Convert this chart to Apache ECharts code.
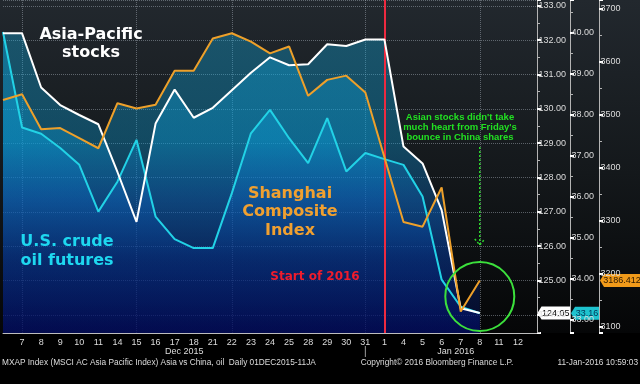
<!DOCTYPE html>
<html><head><meta charset="utf-8">
<script src="https://cdn.jsdelivr.net/npm/echarts@6/dist/echarts.min.js"></script>
<style>html,body{margin:0;padding:0;background:#000;}#c{width:640px;height:384px;}</style>
</head><body><div id="c"></div>
<script>
// ---- data ----
const dates = ['2015-12-04','2015-12-07','2015-12-08','2015-12-09','2015-12-10','2015-12-11',
  '2015-12-14','2015-12-15','2015-12-16','2015-12-17','2015-12-18',
  '2015-12-21','2015-12-22','2015-12-23','2015-12-24','2015-12-25',
  '2015-12-28','2015-12-29','2015-12-30','2015-12-31','2016-01-01',
  '2016-01-04','2016-01-05','2016-01-06','2016-01-07','2016-01-08',
  '2016-01-11','2016-01-12','2016-01-13'];
const asiaPacific = [132.20,132.20,130.62,130.11,129.82,129.55,128.16,126.71,129.57,130.56,129.74,
  130.03,130.54,131.05,131.50,131.27,131.30,131.88,131.83,132.02,132.02,
  128.90,128.41,127.05,124.19,124.05,null,null,null];
const oilFutures = [40.02,37.69,37.54,37.19,36.78,35.64,36.37,37.39,35.52,34.97,34.75,
  34.75,36.09,37.55,38.12,37.43,36.82,37.92,36.62,37.07,36.92,
  36.78,36.01,33.98,33.32,33.16,null,null,null];
const shanghai = [3527,3538,3472,3474,3455,3436,3521,3511,3518,3582,3582,
  3643,3653,3637,3615,3628,3535,3565,3573,3541,3419,
  3297,3288,3362,3128,3186.412,null,null,null];
const gridDates = ['2015-12-07','2015-12-15','2015-12-22','2015-12-31','2016-01-08'];
const startOfYear = '2016-01-01';
const hiddenDates = ['2015-12-04','2016-01-13'];
const asiaRange = [123.47, 133.17];
const oilRange = [32.68, 40.80];
const shRange = [3087.4, 3715.7];

const FONT = "'Liberation Sans',Arial,sans-serif";
const BOLD = "'DejaVu Sans',sans-serif";
const chart = echarts.init(document.getElementById('c'));

function areaGrad(){
  return {type:'linear', x:0, y:0, x2:0, y2:333, global:true, colorStops:[
    {offset:0, color:'rgba(18,175,225,0.5)'},
    {offset:0.42, color:'rgba(10,160,222,0.5)'},
    {offset:0.6, color:'rgba(12,104,195,0.5)'},
    {offset:0.78, color:'rgba(6,52,142,0.5)'},
    {offset:1, color:'rgba(2,12,100,0.55)'}]};
}
function yAx(range, split, offset, fmt, grid){
  return {type:'value', position:'right', offset:offset, min:range[0], max:range[1], splitNumber:split, scale:true,
    axisLine:{show:true, lineStyle:{color:'#b4b4b4'}},
    axisTick:{show:true, inside:false, length:4, lineStyle:{color:'#ffffff', width:2}},
    minorTick:{show:true, splitNumber:2, length:3, lineStyle:{color:'#b4b4b4'}},
    axisLabel:{show:true, margin:1.5, color:'#dcdcdc', fontSize:9, fontFamily:FONT, formatter:fmt, showMinLabel:false, showMaxLabel:false},
    splitLine:{show:grid, lineStyle:{type:'dotted', color:'rgba(175,185,195,0.45)'}},
    minorSplitLine:{show:false}};
}
const seriesDefs = [
  {name:'U.S. crude oil futures', data:oilFutures, y:1, color:'#22d2e6'},
  {name:'Asia-Pacific stocks', data:asiaPacific, y:0, color:'#ffffff'},
  {name:'Shanghai Composite Index', data:shanghai, y:2, color:'#eea02a'}
];
const series = [];
seriesDefs.forEach(s=>{
  series.push({type:'line', name:s.name+' area', data:s.data, yAxisIndex:s.y, z:1, showSymbol:false, silent:true,
    lineStyle:{width:0}, areaStyle:{origin:'start', color:areaGrad()}});
});
seriesDefs.forEach((s,i)=>{
  const o = {type:'line', name:s.name, data:s.data, yAxisIndex:s.y, z:3, showSymbol:false, silent:true,
    lineStyle:{width:2, color:s.color}};
  if(i===0){
    o.markLine = {silent:true, symbol:['none','none'], label:{show:false}, z:2,
      lineStyle:{color:'#ee2a40', width:2, type:'solid'}, data:[{xAxis:startOfYear}]};
  }
  series.push(o);
});

const option = {
  animation:false,
  backgroundColor:{type:'linear', x:0, y:0, x2:0, y2:1, colorStops:[
    {offset:0, color:'#22282e'}, {offset:0.45, color:'#14181b'},
    {offset:0.866, color:'#050607'}, {offset:0.868, color:'#000'}, {offset:1, color:'#000'}]},
  grid:{left:0, right:103, top:0, bottom:51},
  xAxis:{type:'category', data:dates, boundaryGap:false,
    axisLine:{lineStyle:{color:'#bdbdbd'}}, axisTick:{show:false},
    axisLabel:{interval:0, margin:5, color:'#dcdcdc', fontSize:9, fontFamily:FONT, hideOverlap:false,
      formatter:v=> hiddenDates.includes(v) ? '' : String(parseInt(v.slice(8),10))},
    splitLine:{show:true, interval:(i,v)=>gridDates.includes(v), lineStyle:{type:'dotted', color:'rgba(175,185,195,0.45)'}}},
  yAxis:[
    yAx(asiaRange, 10, 0, v=>v.toFixed(2), true),
    yAx(oilRange, 8, 33, v=>v.toFixed(2), false),
    yAx(shRange, 6, 62, v=>String(Math.round(v)), false)
  ],
  series:series
};
chart.setOption(option);

// ---- annotations positioned through the axes ----
const X = d => chart.convertToPixel({xAxisIndex:0}, d);
const Y = (k,v) => chart.convertToPixel({yAxisIndex:k}, v);
const last = arr => arr.filter(v=>v!=null).slice(-1)[0];
const xJan8 = X('2016-01-08');
const xDec4 = X(dates[0]), xDec31 = X('2015-12-31'), xJan1 = X('2016-01-01'), xEnd = X(dates[dates.length-1]);
function tag(x0, x1, y, fill, txtColor, text){
  return {type:'group', z:100, children:[
    {type:'polygon', shape:{points:[[x0,y],[x0+4,y-6.5],[x1,y-6.5],[x1,y+6.5],[x0+4,y+6.5]]}, style:{fill:fill}},
    {type:'text', x:(x0+4+x1)/2, y:y, style:{text:text, fill:txtColor, font:"9px "+FONT, textAlign:'center', textVerticalAlign:'middle'}}
  ]};
}
const aLast = last(asiaPacific), oLast = last(oilFutures), sLast = last(shanghai);
const graphics = [
  {type:'text', x:91, y:44, z:50, style:{text:'Asia-Pacific\nstocks', fill:'#ffffff', font:"bold 16px "+BOLD, textAlign:'center', textVerticalAlign:'middle', lineHeight:18}},
  {type:'text', x:67, y:251, z:50, style:{text:'U.S. crude\noil futures', fill:'#1ed8f0', font:"bold 16px "+BOLD, textAlign:'center', textVerticalAlign:'middle', lineHeight:19}},
  {type:'text', x:290, y:212, z:50, style:{text:'Shanghai\nComposite\nIndex', fill:'#f0a030', font:"bold 16px "+BOLD, textAlign:'center', textVerticalAlign:'middle', lineHeight:18.5}},
  {type:'text', x:315, y:277, z:50, style:{text:'Start of 2016', fill:'#f01c2c', font:"bold 12px "+BOLD, textAlign:'center', textVerticalAlign:'middle'}},
  {type:'text', x:460, y:127, z:50, style:{text:"Asian stocks didn't take\nmuch heart from Friday's\nbounce in China shares", fill:'#22e022', font:"bold 9.5px 'Liberation Sans',sans-serif", textAlign:'center', textVerticalAlign:'middle', lineHeight:10}},
  {type:'line', z:50, shape:{x1:xJan8, y1:147, x2:xJan8, y2:245}, style:{stroke:'#2ed82e', lineWidth:1.5, lineDash:[2,2]}},
  {type:'polyline', z:50, shape:{points:[[xJan8-5,239],[xJan8,245],[xJan8+5,239]]}, style:{stroke:'#2ed82e', lineWidth:1.5, lineDash:[2,2], fill:null}},
  {type:'circle', z:50, shape:{cx:xJan8, cy:296.5, r:34.5}, style:{stroke:'#3ce03c', lineWidth:2, fill:null}},
  {type:'text', x:(xDec4+xDec31)/2, y:352, style:{text:'Dec 2015', fill:'#dcdcdc', font:"9px "+FONT, textAlign:'center', textVerticalAlign:'middle'}},
  {type:'text', x:(xJan1+xEnd)/2 - 5, y:352, style:{text:'Jan 2016', fill:'#dcdcdc', font:"9px "+FONT, textAlign:'center', textVerticalAlign:'middle'}},
  {type:'line', shape:{x1:xDec31, y1:346, x2:xDec31, y2:357}, style:{stroke:'#9a9a9a', lineWidth:1}},
  {type:'text', x:2, y:363, style:{text:'MXAP Index (MSCI AC Asia Pacific Index) Asia vs China, oil  Daily 01DEC2015-11JA', fill:'#dcdcdc', font:"8.3px "+FONT, textAlign:'left', textVerticalAlign:'middle'}},
  {type:'text', x:437, y:363, style:{text:'Copyright\u00a9 2016 Bloomberg Finance L.P.', fill:'#dcdcdc', font:"8.3px "+FONT, textAlign:'center', textVerticalAlign:'middle'}},
  {type:'text', x:638, y:363, style:{text:'11-Jan-2016 10:59:03', fill:'#dcdcdc', font:"8.3px "+FONT, textAlign:'right', textVerticalAlign:'middle'}},
  tag(537.5, 570, Y(0,aLast), '#ffffff', '#000000', aLast.toFixed(2)),
  tag(571, 599, Y(1,oLast), '#1ec3cf', '#003355', oLast.toFixed(2)),
  tag(600, 640, Y(2,sLast), '#f09a1a', '#2a1800', sLast.toFixed(3))
];
chart.setOption({graphic:graphics});
</script>
</body></html>
